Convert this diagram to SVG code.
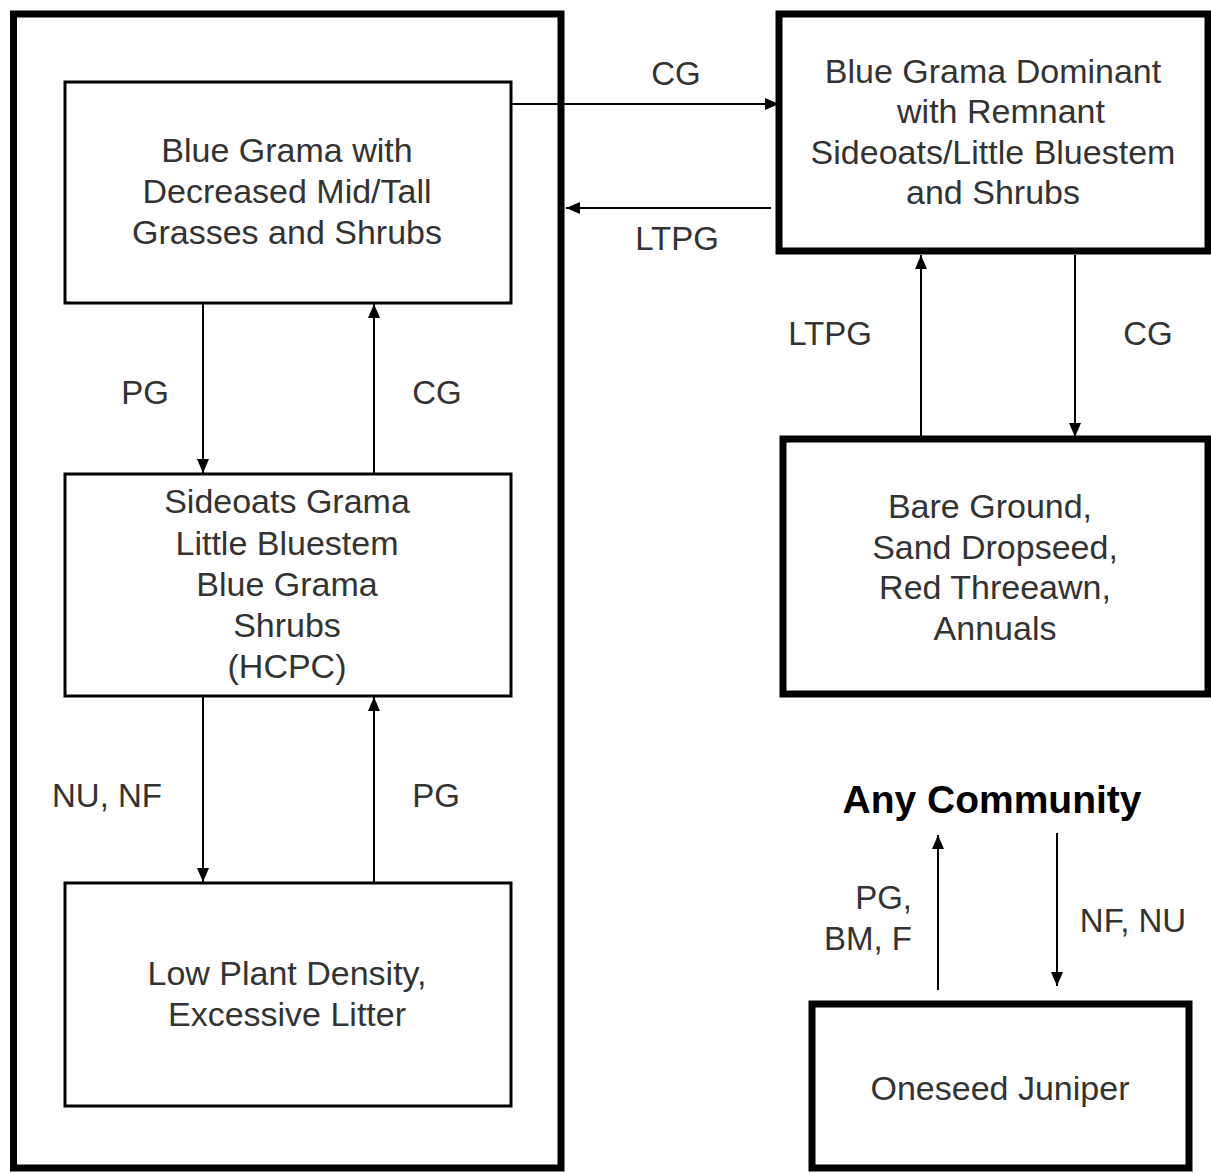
<svg xmlns="http://www.w3.org/2000/svg" width="1211" height="1173" viewBox="0 0 1211 1173">
<defs>
<style>
.bg{fill:#fff}
.thick{fill:#fff;stroke:#000;stroke-width:7}
.thin{fill:#fff;stroke:#000;stroke-width:3}
.t{font-family:"Liberation Sans",Arial,sans-serif;font-size:34px;fill:#333;text-anchor:middle}
.lbl{font-family:"Liberation Sans",Arial,sans-serif;font-size:33px;fill:#333;text-anchor:middle}
.b{font-family:"Liberation Sans",Arial,sans-serif;font-size:39px;font-weight:bold;fill:#000;text-anchor:middle}
.c{stroke:#000;stroke-width:2;fill:none;marker-end:url(#ah)}
</style>
<marker id="ah" viewBox="0 0 14 12" refX="14" refY="6" markerWidth="14" markerHeight="12" markerUnits="userSpaceOnUse" orient="auto">
<path d="M0,0 L14,6 L0,12 z" fill="#000"/>
</marker>
</defs>
<rect class="bg" x="0" y="0" width="1211" height="1173"/>
<g id="outer-group">
<rect class="thick" x="13.5" y="14" width="547.5" height="1154"/>
</g>
<g id="node-blue-grama-decreased">
<rect class="thin" x="65" y="82" width="446" height="221"/>
<text class="t" x="287" y="162">Blue Grama with</text>
<text class="t" x="287" y="203">Decreased Mid/Tall</text>
<text class="t" x="287" y="244">Grasses and Shrubs</text>
</g>
<g id="node-hcpc">
<rect class="thin" x="65" y="474" width="446" height="222"/>
<text class="t" x="287" y="513">Sideoats Grama</text>
<text class="t" x="287" y="555">Little Bluestem</text>
<text class="t" x="287" y="596">Blue Grama</text>
<text class="t" x="287" y="637">Shrubs</text>
<text class="t" x="287" y="678">(HCPC)</text>
</g>
<g id="node-low-plant-density">
<rect class="thin" x="65" y="883" width="446" height="223"/>
<text class="t" x="287" y="985">Low Plant Density,</text>
<text class="t" x="287" y="1026">Excessive Litter</text>
</g>
<g id="node-blue-grama-dominant">
<rect class="thick" x="779" y="14" width="429" height="237"/>
<text class="t" x="993" y="83">Blue Grama Dominant</text>
<text class="t" x="1001" y="123">with Remnant</text>
<text class="t" x="993" y="164">Sideoats/Little Bluestem</text>
<text class="t" x="993" y="204">and Shrubs</text>
</g>
<g id="node-bare-ground">
<rect class="thick" x="783" y="439" width="425" height="255"/>
<text class="t" x="990" y="518">Bare Ground,</text>
<text class="t" x="995" y="559">Sand Dropseed,</text>
<text class="t" x="995" y="599">Red Threeawn,</text>
<text class="t" x="995" y="640">Annuals</text>
</g>
<g id="node-any-community">
<text class="b" x="992" y="813">Any Community</text>
</g>
<g id="node-oneseed-juniper">
<rect class="thick" x="812" y="1004" width="377" height="164"/>
<text class="t" x="1000" y="1100">Oneseed Juniper</text>
</g>
<g id="connectors">
<line class="c" x1="511" y1="104" x2="779" y2="104"/>
<line class="c" x1="771" y1="208" x2="566" y2="208"/>
<line class="c" x1="203" y1="303" x2="203" y2="473"/>
<line class="c" x1="374" y1="474" x2="374" y2="304"/>
<line class="c" x1="203" y1="696" x2="203" y2="882"/>
<line class="c" x1="374" y1="883" x2="374" y2="697"/>
<line class="c" x1="921" y1="436" x2="921" y2="255"/>
<line class="c" x1="1075" y1="255" x2="1075" y2="437"/>
<line class="c" x1="938" y1="990" x2="938" y2="835"/>
<line class="c" x1="1057" y1="833" x2="1057" y2="986"/>
<text class="lbl" x="676" y="85">CG</text>
<text class="lbl" x="677" y="250">LTPG</text>
<text class="lbl" x="145" y="404">PG</text>
<text class="lbl" x="437" y="404">CG</text>
<text class="lbl" x="107" y="807">NU, NF</text>
<text class="lbl" x="436" y="807">PG</text>
<text class="lbl" x="830" y="345">LTPG</text>
<text class="lbl" x="1148" y="345">CG</text>
<text class="lbl" x="912" y="909" style="text-anchor:end">PG,</text>
<text class="lbl" x="912" y="950" style="text-anchor:end">BM, F</text>
<text class="lbl" x="1133" y="932">NF, NU</text>
</g>
</svg>
